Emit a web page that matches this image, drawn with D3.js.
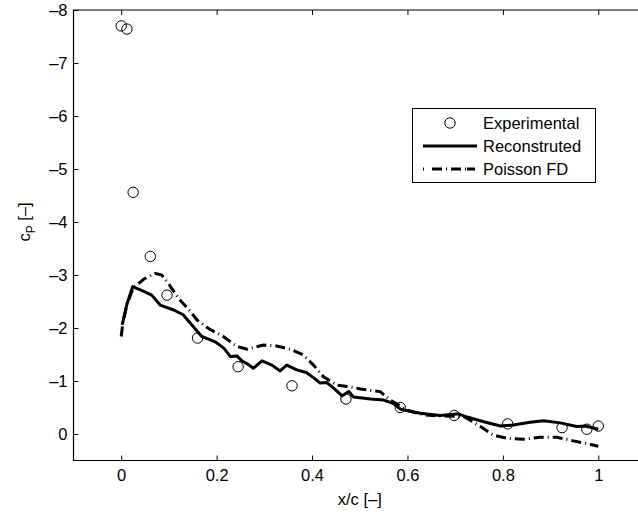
<!DOCTYPE html>
<html>
<head>
<meta charset="utf-8">
<script src="https://cdn.jsdelivr.net/npm/d3@7"></script>
<style>
body { margin: 0; background: #fff; }
svg { font-family: "Liberation Sans", Arial, Helvetica, sans-serif; }
.tick text { font-size: 16.5px; fill: #000; }
</style>
</head>
<body>
<svg width="638" height="514"></svg>
<script>
// experimental points
var expX = [0.0, 0.012, 0.025, 0.061, 0.096, 0.16, 0.245, 0.358, 0.471, 0.585, 0.698, 0.81, 0.924, 0.976, 1.0];
var expCp = [-7.70, -7.64, -4.56, -3.35, -2.62, -1.81, -1.27, -0.91, -0.66, -0.50, -0.35, -0.19, -0.12, -0.09, -0.15];

// reconstructed
var recX = [0.002, 0.012, 0.024, 0.045, 0.064, 0.082, 0.11, 0.13, 0.145, 0.169, 0.197, 0.215, 0.229, 0.243, 0.253, 0.265, 0.277, 0.295, 0.316, 0.333, 0.347, 0.368, 0.388, 0.405, 0.417, 0.431, 0.447, 0.463, 0.477, 0.487, 0.505, 0.522, 0.55, 0.57, 0.585, 0.605, 0.627, 0.669, 0.707, 0.725, 0.76, 0.795, 0.822, 0.857, 0.885, 0.92, 0.955, 0.973, 1.0];
var recCp = [-2.06, -2.45, -2.78, -2.7, -2.62, -2.43, -2.34, -2.25, -2.09, -1.84, -1.74, -1.62, -1.46, -1.47, -1.38, -1.32, -1.24, -1.38, -1.30, -1.19, -1.30, -1.21, -1.16, -1.05, -0.96, -0.97, -0.85, -0.72, -0.80, -0.70, -0.68, -0.66, -0.64, -0.58, -0.47, -0.43, -0.39, -0.35, -0.38, -0.32, -0.23, -0.15, -0.17, -0.22, -0.25, -0.21, -0.14, -0.15, -0.09];

// poisson FD
var poiX = [0.0, 0.003, 0.012, 0.025, 0.047, 0.071, 0.085, 0.099, 0.12, 0.145, 0.159, 0.183, 0.214, 0.243, 0.264, 0.298, 0.326, 0.354, 0.382, 0.403, 0.424, 0.452, 0.48, 0.501, 0.543, 0.564, 0.599, 0.634, 0.669, 0.718, 0.753, 0.78, 0.809, 0.843, 0.878, 0.913, 0.948, 0.976, 1.0];
var poiCp = [-1.84, -2.06, -2.45, -2.75, -2.92, -3.03, -3.0, -2.84, -2.56, -2.31, -2.15, -1.99, -1.84, -1.65, -1.60, -1.68, -1.66, -1.60, -1.49, -1.30, -1.08, -0.92, -0.89, -0.85, -0.80, -0.64, -0.45, -0.36, -0.34, -0.33, -0.14, 0.02, 0.08, 0.10, 0.06, 0.06, 0.13, 0.18, 0.23];

var xTicks = [0, 0.2, 0.4, 0.6, 0.8, 1];
var yTicks = [-8, -7, -6, -5, -4, -3, -2, -1, 0];
var legendLabels = ["Experimental", "Reconstruted", "Poisson FD"];

var svg = d3.select("svg"),
margin = {top: 10, left: 73.5, bottom: 53.5},
width = 646 - margin.left,
height = 514 - margin.top - margin.bottom;

var x = d3.scaleLinear().domain([-0.1, 1.1]).range([0, width]),
y = d3.scaleLinear().domain([-8, 0.5]).range([0, height]);

var g = svg.append("g")
.attr("transform", "translate(" + margin.left + "," + margin.top + ")");

var fmt = function(d) { return d < 0 ? "\u2013" + Math.abs(d) : String(d); };

// bottom axis, ticks inward
var xa = g.append("g")
.attr("transform", "translate(0," + height + ")")
.call(d3.axisBottom(x).tickValues(xTicks).tickSizeInner(-5).tickSizeOuter(0).tickPadding(9).tickFormat(fmt));
xa.select(".domain").remove();

// top mirrored ticks
var xt = g.append("g")
.call(d3.axisTop(x).tickValues(xTicks).tickSizeInner(-5).tickSizeOuter(0).tickFormat(""));
xt.select(".domain").remove();

var ya = g.append("g")
.call(d3.axisLeft(y).tickValues(yTicks).tickSizeInner(-5).tickSizeOuter(0).tickPadding(6).tickFormat(fmt));
ya.select(".domain").remove();

g.selectAll(".tick line").attr("stroke", "#000");

// frame
g.append("path")
.attr("d", "M" + width + ",0H0V" + height + "H" + width)
.attr("fill", "none").attr("stroke", "#000").attr("stroke-width", 1.2);

var line = d3.line()
.x(function(d) { return x(d[0]); })
.y(function(d) { return y(d[1]); });

var recData = recX.map(function(v, i) { return [v, recCp[i]]; });
var poiData = poiX.map(function(v, i) { return [v, poiCp[i]]; });

g.selectAll(".exp")
.data(expX)
.enter().append("circle")
.attr("class", "exp")
.attr("cx", function(d) { return x(d); })
.attr("cy", function(d, i) { return y(expCp[i]); })
.attr("r", 5.2)
.attr("fill", "none").attr("stroke", "#000").attr("stroke-width", 1);

g.append("path")
.attr("d", line(recData))
.attr("fill", "none").attr("stroke", "#000").attr("stroke-width", 3)
.attr("stroke-linejoin", "round");

g.append("path")
.attr("d", line(poiData))
.attr("fill", "none").attr("stroke", "#000").attr("stroke-width", 3)
.attr("stroke-dasharray", "10,4,1,4");

// labels
svg.append("text")
.attr("x", margin.left + width / 2).attr("y", 505)
.attr("text-anchor", "middle").style("font-size", "16.5px")
.text("x/c [\u2013]");

var yl = svg.append("text")
.attr("transform", "translate(30,222) rotate(-90)")
.attr("text-anchor", "middle").style("font-size", "16.5px");
yl.append("tspan").text("c");
yl.append("tspan").attr("dy", 5).style("font-size", "12px").text("P");
yl.append("tspan").attr("dy", -5).text(" [\u2013]");

// legend
var lg = svg.append("g");
lg.append("rect")
.attr("x", 412.5).attr("y", 108.5).attr("width", 183).attr("height", 74)
.attr("fill", "#fff").attr("stroke", "#000").attr("stroke-width", 1);

var rowY = [123, 146, 169];
lg.append("circle").attr("cx", 450).attr("cy", rowY[0]).attr("r", 5.2)
.attr("fill", "none").attr("stroke", "#000");
lg.append("line").attr("x1", 423).attr("x2", 477).attr("y1", rowY[1]).attr("y2", rowY[1])
.attr("stroke", "#000").attr("stroke-width", 3);
lg.append("line").attr("x1", 423).attr("x2", 477).attr("y1", rowY[2]).attr("y2", rowY[2])
.attr("stroke", "#000").attr("stroke-width", 3).attr("stroke-dasharray", "1,8,10,4,1,4,10,4,1");

lg.selectAll(".lt")
.data(legendLabels)
.enter().append("text")
.attr("x", 483)
.attr("y", function(d, i) { return rowY[i] + 6; })
.style("font-size", "16.5px")
.text(function(d) { return d; });
</script>
</body>
</html>
